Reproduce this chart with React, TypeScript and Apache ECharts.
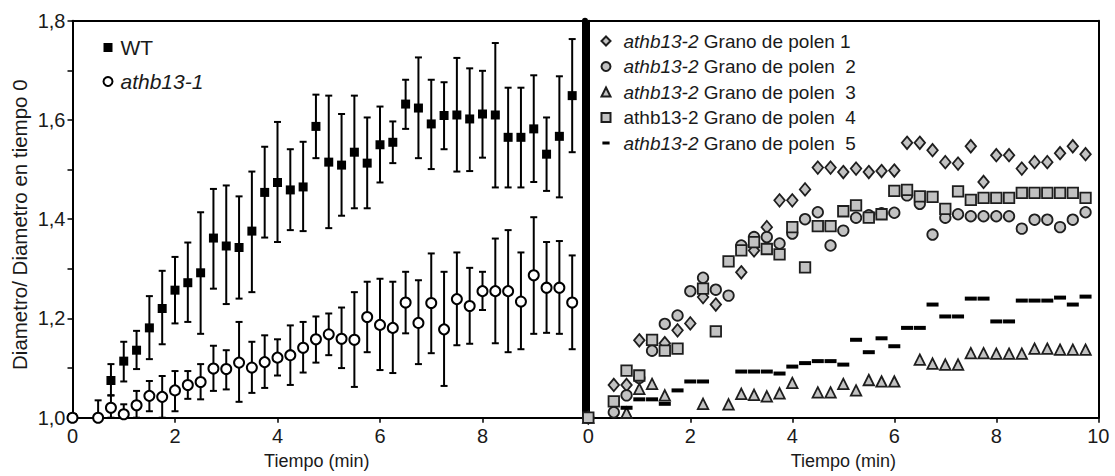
import React, { useEffect, useRef } from "react";
import * as echarts from "echarts";

const FONT = "'Liberation Sans', Arial, Helvetica, sans-serif";
const TXT = "#1a1a1a";

// ---- Left panel: WT and athb13-1 (mean with error bars) ----
const wtX = [0, 0.75, 1, 1.25, 1.5, 1.75, 2, 2.25, 2.5, 2.75, 3, 3.25, 3.5, 3.75, 4, 4.25, 4.5, 4.75, 5, 5.25, 5.5, 5.75, 6, 6.25, 6.5, 6.75, 7, 7.25, 7.5, 7.75, 8, 8.25, 8.5, 8.75, 9, 9.25, 9.5, 9.75];
const wtMean = [1.0, 1.075, 1.114, 1.136, 1.181, 1.22, 1.257, 1.272, 1.292, 1.362, 1.346, 1.343, 1.376, 1.454, 1.474, 1.459, 1.465, 1.587, 1.515, 1.509, 1.535, 1.513, 1.55, 1.555, 1.632, 1.624, 1.592, 1.609, 1.61, 1.602, 1.612, 1.61, 1.565, 1.565, 1.582, 1.531, 1.567, 1.649];
const wtLow = [1.0, 1.045, 1.073, 1.098, 1.118, 1.148, 1.19, 1.193, 1.169, 1.26, 1.229, 1.24, 1.253, 1.363, 1.354, 1.378, 1.376, 1.523, 1.382, 1.407, 1.422, 1.422, 1.474, 1.513, 1.582, 1.523, 1.501, 1.541, 1.496, 1.497, 1.524, 1.464, 1.464, 1.464, 1.475, 1.457, 1.444, 1.535];
const wtHigh = [1.0, 1.108, 1.153, 1.175, 1.245, 1.296, 1.324, 1.353, 1.414, 1.461, 1.468, 1.446, 1.496, 1.546, 1.596, 1.541, 1.556, 1.651, 1.649, 1.612, 1.649, 1.605, 1.627, 1.597, 1.681, 1.726, 1.681, 1.676, 1.725, 1.704, 1.699, 1.755, 1.665, 1.665, 1.69, 1.605, 1.688, 1.763];

const mutX = [0, 0.5, 0.75, 1, 1.25, 1.5, 1.75, 2, 2.25, 2.5, 2.75, 3, 3.25, 3.5, 3.75, 4, 4.25, 4.5, 4.75, 5, 5.25, 5.5, 5.75, 6, 6.25, 6.5, 6.75, 7, 7.25, 7.5, 7.75, 8, 8.25, 8.5, 8.75, 9, 9.25, 9.5, 9.75];
const mutMean = [1.0, 1.0, 1.02, 1.007, 1.025, 1.044, 1.042, 1.055, 1.066, 1.072, 1.099, 1.098, 1.111, 1.101, 1.112, 1.121, 1.126, 1.141, 1.158, 1.168, 1.159, 1.157, 1.203, 1.187, 1.181, 1.232, 1.191, 1.231, 1.178, 1.239, 1.225, 1.255, 1.255, 1.255, 1.234, 1.287, 1.262, 1.262, 1.232];
const mutLow = [1.0, 1.0, 1.0, 1.0, 1.0, 1.013, 1.0, 1.013, 1.038, 1.037, 1.054, 1.057, 1.032, 1.05, 1.06, 1.085, 1.066, 1.091, 1.111, 1.126, 1.1, 1.062, 1.132, 1.096, 1.09, 1.17, 1.108, 1.13, 1.064, 1.146, 1.149, 1.217, 1.15, 1.132, 1.138, 1.169, 1.171, 1.169, 1.138];
const mutHigh = [1.0, 1.035, 1.045, 1.027, 1.054, 1.074, 1.084, 1.094, 1.094, 1.108, 1.145, 1.136, 1.193, 1.153, 1.166, 1.158, 1.186, 1.193, 1.204, 1.21, 1.222, 1.253, 1.274, 1.28, 1.274, 1.294, 1.277, 1.331, 1.294, 1.333, 1.302, 1.294, 1.361, 1.378, 1.333, 1.404, 1.354, 1.356, 1.327];

// ---- Right panel: athb13-2 individual pollen grains [time, ratio] ----
const grain1: [number, number][] = [[0, 1.0], [0.5, 1.066], [0.75, 1.066], [1, 1.156], [1.25, 1.15], [1.5, 1.15], [1.75, 1.176], [2, 1.19], [2.25, 1.243], [2.5, 1.228], [3, 1.293], [3.25, 1.337], [3.5, 1.384], [3.75, 1.438], [4, 1.438], [4.25, 1.46], [4.5, 1.504], [4.75, 1.504], [5, 1.495], [5.25, 1.502], [5.5, 1.495], [5.75, 1.497], [6, 1.498], [6.25, 1.554], [6.5, 1.554], [6.75, 1.539], [7, 1.515], [7.25, 1.512], [7.5, 1.547], [7.75, 1.475], [8, 1.529], [8.25, 1.529], [8.5, 1.502], [8.75, 1.515], [9, 1.515], [9.25, 1.533], [9.5, 1.547], [9.75, 1.531]];
const grain2: [number, number][] = [[0, 1.0], [0.5, 1.011], [0.75, 1.045], [1, 1.08], [1.25, 1.135], [1.5, 1.189], [1.75, 1.206], [2, 1.255], [2.25, 1.282], [2.5, 1.258], [2.75, 1.246], [3, 1.347], [3.25, 1.364], [3.5, 1.364], [3.75, 1.351], [4, 1.371], [4.25, 1.4], [4.5, 1.414], [4.75, 1.347], [5, 1.377], [5.25, 1.403], [5.5, 1.408], [5.75, 1.412], [6, 1.413], [6.25, 1.448], [6.5, 1.431], [6.75, 1.369], [7, 1.403], [7.25, 1.41], [7.5, 1.406], [7.75, 1.406], [8, 1.406], [8.25, 1.406], [8.5, 1.381], [8.75, 1.399], [9, 1.399], [9.25, 1.384], [9.5, 1.399], [9.75, 1.414]];
const grain3: [number, number][] = [[0, 1.0], [0.75, 1.01], [1, 1.058], [1.25, 1.068], [1.5, 1.045], [2.25, 1.028], [2.75, 1.027], [3, 1.048], [3.25, 1.046], [3.5, 1.043], [3.75, 1.049], [4, 1.07], [4.5, 1.051], [4.75, 1.051], [5, 1.068], [5.25, 1.055], [5.5, 1.076], [5.75, 1.073], [6, 1.073], [6.5, 1.117], [6.75, 1.109], [7, 1.107], [7.25, 1.107], [7.5, 1.13], [7.75, 1.13], [8, 1.129], [8.25, 1.129], [8.5, 1.129], [8.75, 1.139], [9, 1.139], [9.25, 1.137], [9.5, 1.137], [9.75, 1.137]];
const grain4: [number, number][] = [[0, 1.0], [0.5, 1.033], [0.75, 1.095], [1, 1.085], [1.25, 1.157], [1.5, 1.135], [1.75, 1.139], [2.25, 1.26], [2.5, 1.174], [2.75, 1.315], [3, 1.337], [3.25, 1.354], [3.5, 1.34], [3.75, 1.329], [4, 1.384], [4.25, 1.303], [4.5, 1.386], [4.75, 1.386], [5, 1.416], [5.25, 1.428], [5.5, 1.403], [5.75, 1.41], [6, 1.457], [6.25, 1.459], [6.5, 1.446], [6.75, 1.445], [7, 1.421], [7.25, 1.456], [7.5, 1.439], [7.75, 1.443], [8, 1.443], [8.25, 1.443], [8.5, 1.453], [8.75, 1.453], [9, 1.453], [9.25, 1.453], [9.5, 1.453], [9.75, 1.443]];
const grain5: [number, number][] = [[0.75, 1.02], [1, 1.037], [1.25, 1.037], [1.5, 1.028], [1.75, 1.055], [2, 1.073], [2.25, 1.073], [3, 1.093], [3.25, 1.093], [3.5, 1.093], [3.75, 1.089], [4, 1.103], [4.25, 1.11], [4.5, 1.114], [4.75, 1.114], [5, 1.107], [5.25, 1.157], [5.5, 1.132], [5.75, 1.16], [6, 1.144], [6.25, 1.181], [6.5, 1.181], [6.75, 1.228], [7, 1.204], [7.25, 1.204], [7.5, 1.24], [7.75, 1.24], [8, 1.194], [8.25, 1.194], [8.5, 1.236], [8.75, 1.236], [9, 1.236], [9.25, 1.242], [9.5, 1.228], [9.75, 1.244]];

const leftNames = ["WT", "athb13-1"];
const rightNames = [
  "athb13-2 Grano de polen 1",
  "athb13-2 Grano de polen  2",
  "athb13-2 Grano de polen  3",
  "athb13-2 Grano de polen  4",
  "athb13-2 Grano de polen  5",
];
const italicRight = [true, true, true, false, true];

const DASH = "path://M0,0 H3 V1 H0 Z";
const DASH_ICON = "path://M0,0 L0.02,0 L0.02,0.02 Z M1,3.4 H9 V6.6 H1 Z M10,9.98 L10,10 L9.98,10 Z";

const GRAY = "#c2c2c2";
const EDGE = "#1e1e1e";

function errorBarItem(params: any, api: any) {
  const x = api.value(0);
  const lo = api.value(1);
  const hi = api.value(2);
  if (hi === lo) return { type: "group", children: [] };
  const t = api.coord([x, hi]);
  const b = api.coord([x, lo]);
  const w = 3.5;
  const st = { stroke: "#000", lineWidth: 2 };
  return {
    type: "group",
    children: [
      { type: "line", shape: { x1: t[0], y1: t[1], x2: b[0], y2: b[1] }, style: st },
      { type: "line", shape: { x1: t[0] - w, y1: t[1], x2: t[0] + w, y2: t[1] }, style: st },
      { type: "line", shape: { x1: b[0] - w, y1: b[1], x2: b[0] + w, y2: b[1] }, style: st },
    ],
  };
}

export default function App() {
  const ref = useRef<HTMLDivElement>(null);
  useEffect(() => {
    if (!ref.current) return;
    const chart = echarts.init(ref.current, undefined, { renderer: "svg" });
    const yFmt = (v: number) => {
      const k = Math.round(v * 10);
      return k % 2 === 0 ? (k / 10).toFixed(1).replace(".", ",") : "";
    };
    const bottomAxis = (grid: number, hideLast: boolean, nameShift: number) => ({
      type: "value",
      gridIndex: grid,
      position: "bottom",
      min: 0,
      max: 10,
      interval: 2,
      axisLine: { onZero: false, lineStyle: { color: "#000", width: 2 } },
      axisTick: { show: true, length: 5, lineStyle: { color: "#000", width: 1.5 } },
      axisLabel: {
        show: true,
        margin: 8,
        fontSize: 20,
        fontFamily: FONT,
        color: TXT,
        formatter: (v: number) => (hideLast && v === 10 ? "" : String(v)),
      },
      splitLine: { show: false },
      name: "Tiempo (min)",
      nameLocation: "middle",
      nameGap: 34,
      nameTextStyle: { fontSize: 18, fontFamily: FONT, color: TXT, padding: nameShift ? [0, nameShift, 0, 0] : 0 },
    });
    const borderAxisX = (grid: number) => ({
      type: "value",
      gridIndex: grid,
      position: "top",
      min: 0,
      max: 10,
      axisLine: { onZero: false, lineStyle: { color: "#000", width: 2 } },
      axisTick: { show: false },
      axisLabel: { show: false },
      splitLine: { show: false },
    });
    const borderAxisY = (grid: number, pos: string, width: number) => ({
      type: "value",
      gridIndex: grid,
      position: pos,
      min: 1,
      max: 1.8,
      axisLine: { show: true, onZero: false, lineStyle: { color: "#000", width } },
      axisTick: { show: false },
      axisLabel: { show: false },
      splitLine: { show: false },
    });
    const rightSym = ["diamond", "circle", "triangle", "rect", DASH];
    const rightSize: any[] = [[10.5, 12.5], 10.5, 10.5, 10.5, [12, 4]];
    const rightData = [grain1, grain2, grain3, grain4, grain5];

    const option: any = {
      animation: false,
      backgroundColor: "#fff",
      textStyle: { fontFamily: FONT },
      grid: [
        { left: 72.5, top: 20.7, width: 512.5, height: 397, containLabel: false },
        { left: 588.3, top: 20.7, width: 510, height: 397, containLabel: false },
      ],
      xAxis: [bottomAxis(0, true, 24), borderAxisX(0), bottomAxis(1, false, 0), borderAxisX(1)],
      yAxis: [
        {
          type: "value",
          gridIndex: 0,
          position: "left",
          min: 1,
          max: 1.8,
          interval: 0.1,
          axisLine: { show: true, onZero: false, lineStyle: { color: "#000", width: 2 } },
          axisTick: { show: true, length: 5, lineStyle: { color: "#000", width: 1.5 } },
          axisLabel: { margin: 7, fontSize: 20, fontFamily: FONT, color: TXT, formatter: yFmt },
          splitLine: { show: false },
          name: "Diametro/ Diametro en tiempo 0",
          nameLocation: "middle",
          nameGap: 43,
          nameRotate: 90,
          nameTextStyle: { fontSize: 20.5, fontFamily: FONT, color: TXT, padding: [0, 11, 0, 0] },
        },
        borderAxisY(0, "right", 6),
        borderAxisY(1, "left", 2),
        borderAxisY(1, "right", 2),
      ],
      legend: [
        {
          data: leftNames,
          orient: "vertical",
          left: 102.5,
          top: 36.5,
          padding: 0,
          itemWidth: 9,
          itemHeight: 9,
          itemGap: 12,
          selectedMode: false,
          textStyle: {
            fontSize: 21,
            fontFamily: FONT,
            color: TXT,
            lineHeight: 22,
            padding: [0, 0, 0, 3],
            rich: { it: { fontStyle: "italic", fontSize: 21, fontFamily: FONT, color: TXT } },
          },
          formatter: (n: string) => (n === "WT" ? "WT" : `{it|${n}}`),
        },
        {
          data: rightNames.map((n, i) => (i === 4 ? { name: n, icon: DASH_ICON } : { name: n })),
          orient: "vertical",
          left: 600.5,
          top: 31,
          padding: 0,
          itemWidth: 9,
          itemHeight: 9,
          itemGap: 5.5,
          selectedMode: false,
          textStyle: {
            fontSize: 19,
            fontFamily: FONT,
            color: TXT,
            lineHeight: 20,
            padding: [0, 0, 0, 8],
            rich: { it: { fontStyle: "italic", fontSize: 19, fontFamily: FONT, color: TXT } },
          },
          formatter: (n: string) => {
            const i = rightNames.indexOf(n);
            const rest = n.slice("athb13-2".length);
            return italicRight[i] ? `{it|athb13-2}${rest}` : n;
          },
        },
      ],
      series: [
        {
          type: "custom",
          name: "errWT",
          xAxisIndex: 0,
          yAxisIndex: 0,
          renderItem: errorBarItem,
          encode: { x: 0, y: [1, 2] },
          data: wtX.map((x, i) => [x, wtLow[i], wtHigh[i]]),
          z: 1,
          silent: true,
        },
        {
          type: "custom",
          name: "errMut",
          xAxisIndex: 0,
          yAxisIndex: 0,
          renderItem: errorBarItem,
          encode: { x: 0, y: [1, 2] },
          data: mutX.map((x, i) => [x, mutLow[i], mutHigh[i]]),
          z: 1,
          silent: true,
        },
        {
          type: "scatter",
          name: "WT",
          xAxisIndex: 0,
          yAxisIndex: 0,
          symbol: "rect",
          symbolSize: 9,
          clip: false,
          itemStyle: { color: "#000", opacity: 1 },
          data: wtX.map((x, i) => [x, wtMean[i]]),
          z: 3,
        },
        {
          type: "scatter",
          name: "athb13-1",
          xAxisIndex: 0,
          yAxisIndex: 0,
          symbol: "circle",
          symbolSize: 10,
          clip: false,
          itemStyle: { color: "#fff", borderColor: "#000", borderWidth: 2, opacity: 1 },
          data: mutX.map((x, i) => [x, mutMean[i]]),
          z: 4,
        },
        ...rightNames.map((n, i) => ({
          type: "scatter",
          name: n,
          xAxisIndex: 2,
          yAxisIndex: 2,
          symbol: rightSym[i],
          symbolSize: rightSize[i],
          clip: false,
          itemStyle:
            i === 4
              ? { color: "#000", borderWidth: 0, opacity: 1 }
              : { color: GRAY, borderColor: EDGE, borderWidth: 1.8, opacity: 1 },
          data: rightData[i],
          z: 3,
        })),
      ],
    };
    chart.setOption(option);
    return () => chart.dispose();
  }, []);
  return (
    <div
      ref={ref}
      style={{ position: "absolute", left: 0, top: 0, width: 1115, height: 476, background: "#fff" }}
    />
  );
}
